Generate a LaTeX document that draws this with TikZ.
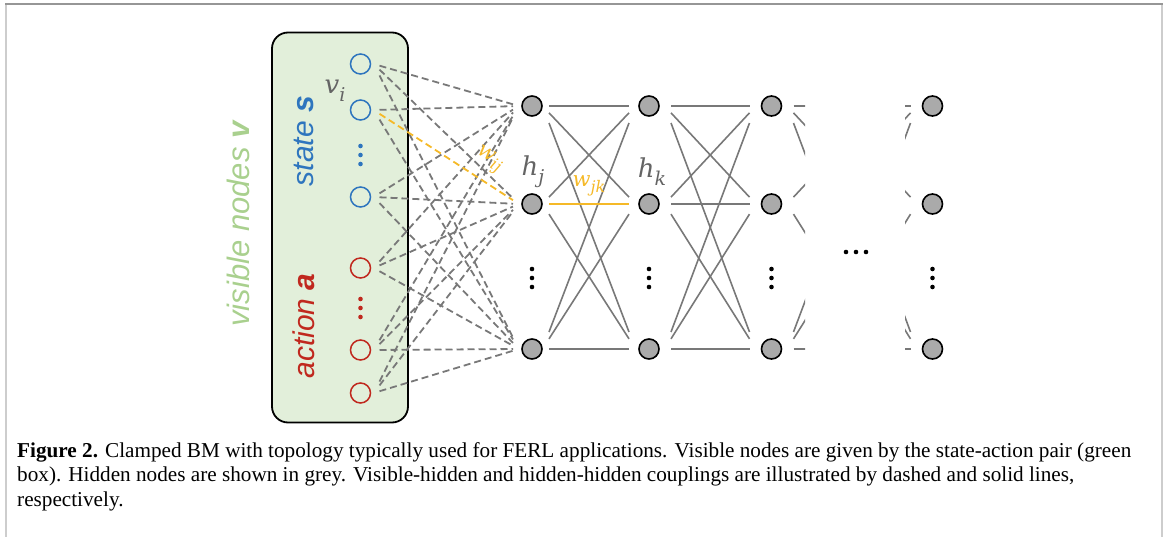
\documentclass[tikz,border=0pt]{standalone}
\usepackage{fontspec}
\setmainfont{Liberation Serif}
\newfontfamily\arialfont{Liberation Sans}
\newfontfamily\mathlikefont{DejaVu Serif}
\newcommand\mylab[4]{{\mathlikefont\itshape\fontsize{#3}{#3}\selectfont #1\raisebox{-0.3em}{\fontsize{#4}{#4}\selectfont #2}}}
\definecolor{hidgrey}{RGB}{170,170,170}
\definecolor{lgrey}{RGB}{120,120,120}
\definecolor{lblgrey}{RGB}{100,100,100}
\definecolor{visblue}{RGB}{46,117,190}
\definecolor{visred}{RGB}{192,40,30}
\definecolor{boxgreen}{RGB}{226,239,218}
\definecolor{txtgreen}{RGB}{169,208,142}
\definecolor{wgold}{RGB}{245,185,40}
\definecolor{framegrey}{RGB}{150,150,150}
\definecolor{framelight}{RGB}{205,205,205}
\begin{document}
\begin{tikzpicture}[x=1pt,y=-1pt,
  vis/.style={circle, draw, line width=1.5pt, minimum size=20pt, inner sep=0pt},
  hid/.style={circle, draw=black, fill=hidgrey, line width=1.6pt, minimum size=20pt, inner sep=0pt},
  vhline/.style={draw=lgrey, line width=1.8pt, dash pattern=on 7pt off 4pt},
  hhline/.style={draw=lgrey, line width=1.6pt},
  dotm/.style={circle, fill, inner sep=0pt, minimum size=4.6pt},
  sidetxt/.style={rotate=90, font=\arialfont\itshape\fontsize{30}{30}\selectfont, inner sep=0pt},
  mlabel/.style={text=lblgrey, inner sep=0pt},
  wlabel/.style={text=wgold, inner sep=0pt},
  captxt/.style={anchor=base west, inner sep=0pt, font=\fontsize{21.2}{24}\selectfont}
]
\useasboundingbox (0,0) rectangle (1165,537);
% frame
\draw[framelight, line width=2pt] (6,4) -- (6,537);
\draw[framelight, line width=2pt] (1162,4) -- (1162,537);
\draw[framegrey, line width=1.5pt] (5,4) -- (1163,4);

% green box
\node[draw=black, fill=boxgreen, line width=1.8pt, rounded corners=16pt,
      minimum width=136pt, minimum height=390pt, inner sep=0pt] (box) at (340,227.5) {};

% side texts
\node[sidetxt, text=txtgreen, font=\arialfont\itshape\fontsize{31}{31}\selectfont] (vistxt) at (238,224) {visible nodes \textbf{v}};
\node[sidetxt, text=visblue] (statetxt) at (304,141) {state \textbf{s}};
\node[sidetxt, text=visred] (actiontxt) at (304,326) {action \textbf{a}};

% visible nodes
\node[vis, draw=visblue] (v1) at (360.5,64) {};
\node[vis, draw=visblue] (v2) at (360.5,110) {};
\node[vis, draw=visblue] (v3) at (360.5,197) {};
\node[vis, draw=visred] (v4) at (360.5,268) {};
\node[vis, draw=visred] (v5) at (360.5,350) {};
\node[vis, draw=visred] (v6) at (360.5,393) {};
\foreach \yy [count=\n] in {146,155,164} \node[dotm, visblue] (bd\n) at (360.5,\yy) {};
\foreach \yy [count=\n] in {299,308,317} \node[dotm, visred] (rd\n) at (360.5,\yy) {};

% hidden nodes
\foreach \L/\xx in {1/532,2/649,3/771.5,4/932.5}{
  \node[hid] (h\L1) at (\xx,106) {};
  \node[hid] (h\L2) at (\xx,204) {};
  \node[hid] (h\L3) at (\xx,349) {};
  \foreach \yy [count=\n] in {269,278,287} \node[dotm] (hd\L\n) at (\xx,\yy) {};
}
\foreach \xx [count=\n] in {846,856,866} \node[dotm] (ed\n) at (\xx,252) {};

% phantom layers for the clipped stubs
\coordinate (p1) at (894,106); \coordinate (p2) at (894,204); \coordinate (p3) at (894,349);
\coordinate (q1) at (811,106); \coordinate (q2) at (811,204); \coordinate (q3) at (811,349);

% visible-hidden dashed couplings
\foreach \i/\yi in {1/64,2/110,3/197,4/268,5/350,6/393}{
  \foreach \j/\yj in {1/106,2/204,3/349}{
    \pgfmathsetmacro\k{0.04*(\yj-\yi)}
    \ifnum\i\j=22 \else
      \draw[vhline] ([shift={(19,\k)}]v\i.center) -- ([shift={(-19,-\k)}]h1\j.center);
    \fi
  }
}
\draw[vhline, draw=wgold] ([shift={(19,3.8)}]v2.center) -- ([shift={(-19,-3.8)}]h12.center);

% hidden-hidden couplings
\foreach \i/\yi in {1/106,2/204,3/349}{
  \foreach \j/\yj in {1/106,2/204,3/349}{
    \pgfmathsetmacro\k{0.07*(\yj-\yi)}
    \ifnum\i\j=22 \else
      \draw[hhline] ([shift={(17,\k)}]h1\i.center) -- ([shift={(-20,-\k)}]h2\j.center);
    \fi
    \draw[hhline] ([shift={(22,\k)}]h2\i.center) -- ([shift={(-22,-\k)}]h3\j.center);
  }
}
\draw[hhline, draw=wgold] ([shift={(17,0)}]h12.center) -- ([shift={(-20,0)}]h22.center);

% stubs towards the omitted layers
\begin{scope}
  \clip (780,0) rectangle (805,537);
  \foreach \i/\j/\yi/\yj in {1/1/106/106,1/2/106/204,1/3/106/349,2/1/204/106,2/3/204/349,3/1/349/106,3/2/349/204,3/3/349/349}{
    \pgfmathsetmacro\k{0.07*(\yj-\yi)}
    \draw[hhline] ([shift={(22,\k)}]h3\i.center) -- ([shift={(-22,-\k)}]p\j);
  }
\end{scope}
\begin{scope}
  \clip (905,0) rectangle (925,537);
  \foreach \i/\j/\yi/\yj in {1/1/106/106,2/1/204/106,3/1/349/106,1/2/106/204,3/2/349/204,1/3/106/349,2/3/204/349,3/3/349/349}{
    \pgfmathsetmacro\k{0.07*(\yj-\yi)}
    \draw[hhline] ([shift={(22,\k)}]q\i) -- ([shift={(-22,-\k)}]h4\j.center);
  }
\end{scope}

% labels
\node[mlabel] (vi) at (335,91) {\mylab{v}{i}{26}{19}};
\node[mlabel] (hj) at (533,172) {\mylab{h}{j}{26}{19}};
\node[mlabel] (hk) at (652,172) {\mylab{h}{k}{26}{19}};
\node[wlabel, rotate=-30] (wij) at (489,160) {\mylab{w}{ij}{21}{16}};
\node[wlabel] (wjk) at (589,186) {\mylab{w}{jk}{21}{16}};

% caption
\node[captxt] (cap1) at (17,457) {\textbf{Figure 2.} Clamped BM with topology typically used for FERL applications. Visible nodes are given by the state-action pair (green};
\node[captxt] (cap2) at (17,481.5) {box). Hidden nodes are shown in grey. Visible-hidden and hidden-hidden couplings are illustrated by dashed and solid lines,};
\node[captxt] (cap3) at (17,506) {respectively.};
\end{tikzpicture}
\end{document}
